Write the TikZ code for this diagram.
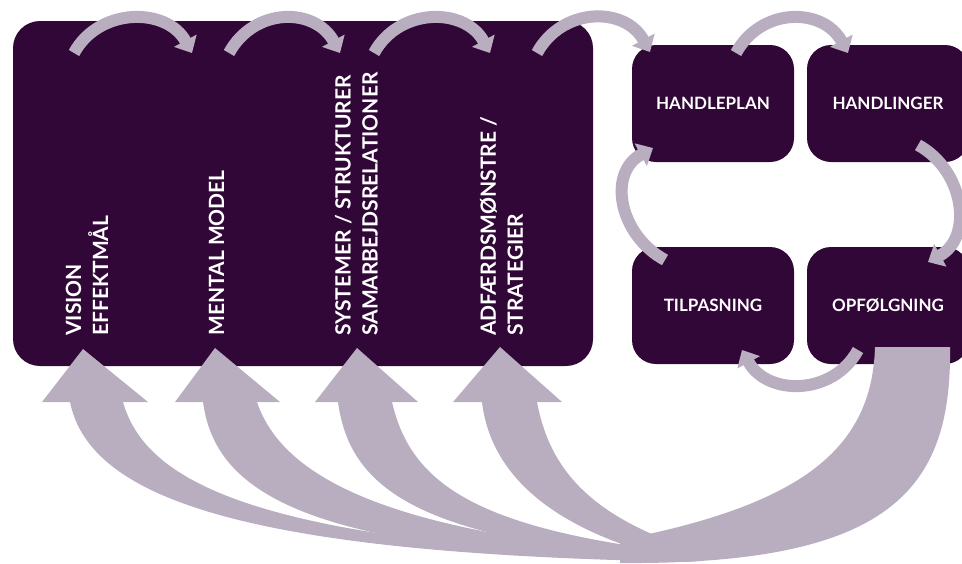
\documentclass[tikz,border=0pt]{standalone}
\usepackage{fontspec}
\setmainfont{Lato}
\usetikzlibrary{arrows.meta}
\definecolor{boxpurple}{RGB}{48,7,54}
\definecolor{arrowgrey}{RGB}{185,174,191}
\tikzstyle{bigbox} = [rectangle, rounded corners=27pt, fill=boxpurple, minimum width=580pt, minimum height=345pt]
\tikzstyle{stepbox} = [rectangle, rounded corners=24pt, fill=boxpurple, minimum width=162pt, minimum height=117pt, text=white, font=\fontsize{17}{20}\selectfont\bfseries]
\tikzstyle{vtext} = [rotate=90, anchor=west, inner sep=0pt, align=left, text=white, font=\fontsize{21}{27}\selectfont\bfseries]
\tikzstyle{looparrow} = [draw=arrowgrey, line width=12pt, -{Triangle[width=25pt,length=14pt]}]
\tikzstyle{fatarrow} = [fill=arrowgrey]

\begin{document}
\begin{tikzpicture}[x=1pt, y=-1pt, node distance=175pt]
\useasboundingbox (0,0) rectangle (962,563);

\node (model) [bigbox] at (303,193.5) {};
\node (handleplan) [stepbox] at (713,103.5) {HANDLEPLAN};
\node (handlinger) [stepbox, right of=handleplan] {HANDLINGER};
\node (tilpasning) [stepbox, below of=handleplan, yshift=-27pt] {TILPASNING};
\node (opfolgning) [stepbox, right of=tilpasning] {OPFØLGNING};

\node (vision) [vtext] at (87,336) {VISION\\EFFEKTMÅL};
\node (mental) [vtext] at (216.5,336) {MENTAL MODEL};
\node (systemer) [vtext] at (356.5,336) {SYSTEMER / STRUKTURER\\SAMARBEJDSRELATIONER};
\node (adfaerd) [vtext] at (501.5,336) {ADFÆRDSMØNSTRE /\\STRATEGIER};

% ends of the small loops
\coordinate (vTop) at (74,53);
\coordinate (mIn) at (192,53);
\coordinate (mTop) at (229,53);
\coordinate (sIn) at (340,53);
\coordinate (sTop) at (374,53);
\coordinate (aIn) at (490,53);
\coordinate (aTop) at (537,53);
\coordinate (hpIn) at (650,52);
\coordinate (hpOut) at (736,53);
\coordinate (hlIn) at (848,53);
\coordinate (hlOut) at (918,145);
\coordinate (opIn) at (928,262);
\coordinate (opOut) at (858,350);
\coordinate (tpIn) at (742,350);
\coordinate (tpOut) at (665,260);
\coordinate (hpBack) at (653,148);

\draw [looparrow] (vTop) .. controls +(25,-46) and +(-25,-46) .. (mIn);
\draw [looparrow] (mTop) .. controls +(25,-46) and +(-25,-46) .. (sIn);
\draw [looparrow] (sTop) .. controls +(25,-46) and +(-25,-46) .. (aIn);
\draw [looparrow] (aTop) .. controls +(25,-46) and +(-25,-46) .. (hpIn);
\draw [looparrow] (hpOut) .. controls +(25,-46) and +(-25,-46) .. (hlIn);
\draw [looparrow] (hlOut) .. controls +(46,25) and +(46,-25) .. (opIn);
\draw [looparrow] (opOut) .. controls +(-25,46) and +(25,46) .. (tpIn);
\draw [looparrow] (tpOut) .. controls +(-46,-25) and +(-46,25) .. (hpBack);

% fat arrows back to the left block
\fill [fatarrow] (875,347) -- (950,347) .. controls (952,490) and (890,565) .. (620,563) -- (620,540) .. controls (800,505) and (872,450) .. (875,347) -- cycle;
\fill [fatarrow] (70,402) .. controls (90,500) and (250,555) .. (700,562) -- (600,555) .. controls (250,535) and (145,480) .. (123,402) -- cycle;
\fill [fatarrow] (203,402) .. controls (215,490) and (300,550) .. (650,560) -- (650,553) .. controls (370,530) and (280,470) .. (257,402) -- cycle;
\fill [fatarrow] (338,402) .. controls (350,490) and (420,540) .. (680,560) -- (660,550) .. controls (470,525) and (410,480) .. (392,402) -- cycle;
\fill [fatarrow] (482,402) .. controls (490,470) and (545,525) .. (660,556) -- (680,545) .. controls (580,510) and (548,460) .. (537,402) -- cycle;
\fill [fatarrow] (83,349) -- (148,402) -- (42,402) -- cycle;
\fill [fatarrow] (215,348) -- (280,402) -- (175,402) -- cycle;
\fill [fatarrow] (357,348) -- (418,402) -- (315,402) -- cycle;
\fill [fatarrow] (500,347) -- (562,402) -- (453,402) -- cycle;

\end{tikzpicture}
\end{document}
